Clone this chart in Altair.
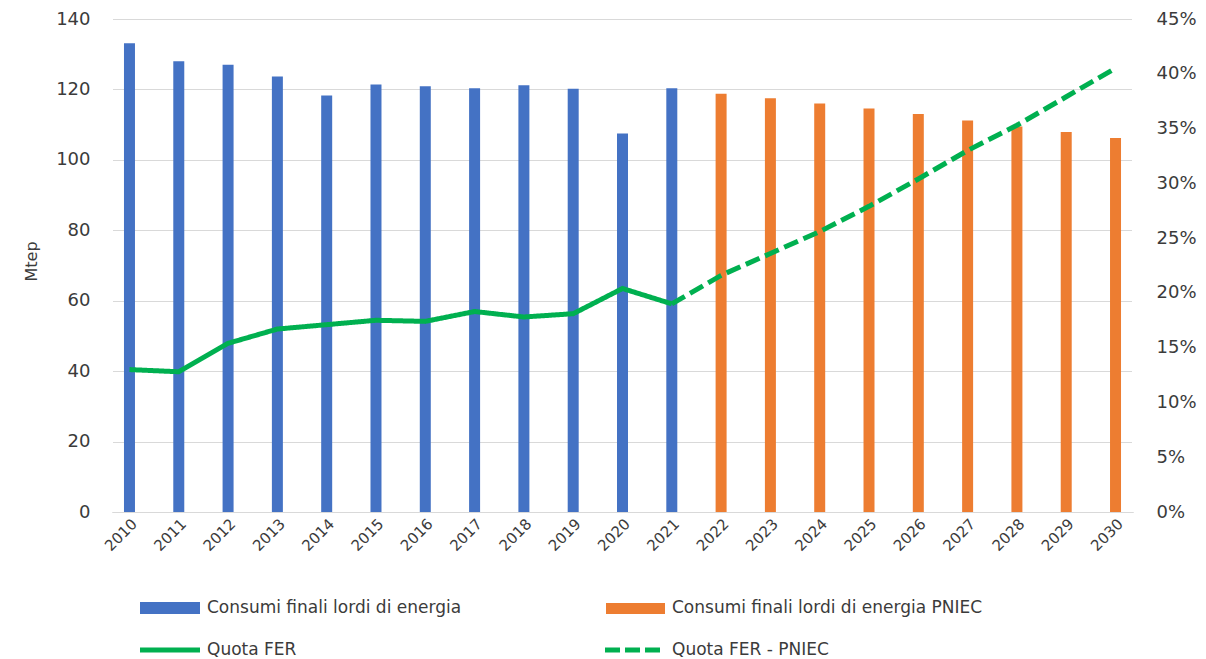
import altair as alt
import pandas as pd

# ---- data ----
anni = ["2010", "2011", "2012", "2013", "2014", "2015", "2016", "2017", "2018",
        "2019", "2020", "2021", "2022", "2023", "2024", "2025", "2026", "2027",
        "2028", "2029", "2030"]
anni_storici = anni[:12]
anni_pniec = anni[12:]
anni_fer_pniec = anni[11:]

consumi_storici = [133.1, 128.0, 127.0, 123.7, 118.3, 121.4, 120.9, 120.3, 121.2, 120.2, 107.5, 120.3]
consumi_pniec = [118.8, 117.5, 116.0, 114.6, 113.0, 111.2, 109.5, 107.9, 106.2]

quota_fer = [13.0, 12.8, 15.4, 16.7, 17.1, 17.5, 17.4, 18.3, 17.8, 18.1, 20.4, 19.0]
quota_fer_pniec = [19.0, 21.6, 23.6, 25.6, 27.9, 30.4, 33.0, 35.3, 37.9, 40.5]

serie_barre = ["Consumi finali lordi di energia", "Consumi finali lordi di energia PNIEC"]
serie_linee = ["Quota FER", "Quota FER - PNIEC"]
colori_barre = ["#4472C4", "#ED7D31"]
verde = "#00B050"

left_ticks = [0, 20, 40, 60, 80, 100, 120, 140]
right_ticks = [0, 0.05, 0.10, 0.15, 0.20, 0.25, 0.30, 0.35, 0.40, 0.45]

FONT = "DejaVu Sans"
TXT = "#3b3b3b"
GRID = "#d9d9d9"

bars_df = pd.DataFrame({
    "anno": anni_storici + anni_pniec,
    "consumi": consumi_storici + consumi_pniec,
    "serie": [serie_barre[0]] * len(anni_storici) + [serie_barre[1]] * len(anni_pniec),
})
line_df = pd.DataFrame({
    "anno": anni_storici + anni_fer_pniec,
    "quota": [v / 100 for v in quota_fer + quota_fer_pniec],
    "serie": [serie_linee[0]] * len(anni_storici) + [serie_linee[1]] * len(anni_fer_pniec),
})

x_axis = alt.Axis(title=None, labelAngle=-45, labelAlign="right", labelBaseline="middle",
                  labelFontSize=15, labelFont=FONT, labelColor=TXT, labelPadding=9,
                  labelOffset=5, ticks=False, domain=True, domainColor=GRID,
                  domainWidth=1, grid=False)
x_enc = alt.X("anno:O", sort=anni,
              scale=alt.Scale(domain=anni, paddingInner=0.777, paddingOuter=0.243),
              axis=x_axis)

bars = alt.Chart(bars_df).mark_bar().encode(
    x=x_enc,
    y=alt.Y("consumi:Q",
            scale=alt.Scale(domain=[0, 140], nice=False, zero=True),
            axis=alt.Axis(values=left_ticks, title="Mtep", grid=True, gridColor=GRID,
                          gridWidth=1, domain=False, ticks=False, labelPadding=22,
                          labelFontSize=18, labelFont=FONT, labelColor=TXT,
                          titleFont=FONT, titleFontSize=16, titleFontWeight="normal",
                          titleColor=TXT, titleX=-81, titleY=242, titleAlign="center",
                          titleBaseline="middle", titleAngle=270)),
    color=alt.Color("serie:N", scale=alt.Scale(domain=serie_barre, range=colori_barre),
                    legend=None),
)

lines = alt.Chart(line_df).mark_line(strokeWidth=5, color=verde).encode(
    x=x_enc,
    y=alt.Y("quota:Q",
            scale=alt.Scale(domain=[0, 0.45], nice=False, zero=True),
            axis=alt.Axis(orient="right", values=right_ticks, format=".0%", title=None,
                          grid=False, domain=False, ticks=False, labelPadding=23,
                          labelFontSize=18, labelFont=FONT, labelColor=TXT)),
    strokeDash=alt.StrokeDash("serie:N",
                              scale=alt.Scale(domain=serie_linee, range=[[1, 0], [15, 6]]),
                              legend=None),
)

one = alt.Data(values=[{"k": 0}])

# hide the frame at the plot's left and right edges
edge_left = alt.Chart(one).mark_rule(color="white", strokeWidth=2).encode(
    x=alt.value(0), y=alt.value(-1), y2=alt.value(493))
edge_right = alt.Chart(one).mark_rule(color="white", strokeWidth=2).encode(
    x=alt.value(1021), y=alt.value(-1), y2=alt.value(493))

leg_rect1 = alt.Chart(one).mark_rect(color=colori_barre[0]).encode(
    x=alt.value(28), x2=alt.value(88), y=alt.value(583), y2=alt.value(595))
leg_rect2 = alt.Chart(one).mark_rect(color=colori_barre[1]).encode(
    x=alt.value(494), x2=alt.value(553), y=alt.value(584), y2=alt.value(595))
leg_line1 = alt.Chart(one).mark_rule(color=verde, strokeWidth=5).encode(
    x=alt.value(28), x2=alt.value(88), y=alt.value(631))
leg_line2 = alt.Chart(one).mark_rule(color=verde, strokeWidth=5, strokeDash=[15, 5]).encode(
    x=alt.value(493), x2=alt.value(550), y=alt.value(631))


def leg_text(label, x, y):
    return alt.Chart(alt.Data(values=[{"t": label}])).mark_text(
        align="left", baseline="middle", font=FONT, fontSize=17, color=TXT
    ).encode(x=alt.value(x), y=alt.value(y), text="t:N")


chart = alt.layer(
    bars, lines, edge_left, edge_right,
    leg_rect1, leg_rect2, leg_line1, leg_line2,
    leg_text(serie_barre[0], 95, 589),
    leg_text(serie_barre[1], 560, 589),
    leg_text(serie_linee[0], 95, 631),
    leg_text(serie_linee[1], 560, 631),
).resolve_scale(y="independent").properties(
    width=1021, height=493,
    autosize=alt.AutoSizeParams(type="none"),
    padding={"left": 104, "top": 11, "right": 65, "bottom": 150},
    background="white",
).configure(
    view=alt.ViewConfig(stroke="transparent", strokeWidth=0),
    axisY=alt.AxisConfig(domain=False, ticks=False),
)

chart.save("out.html", embed_options={"renderer": "svg", "actions": False})
